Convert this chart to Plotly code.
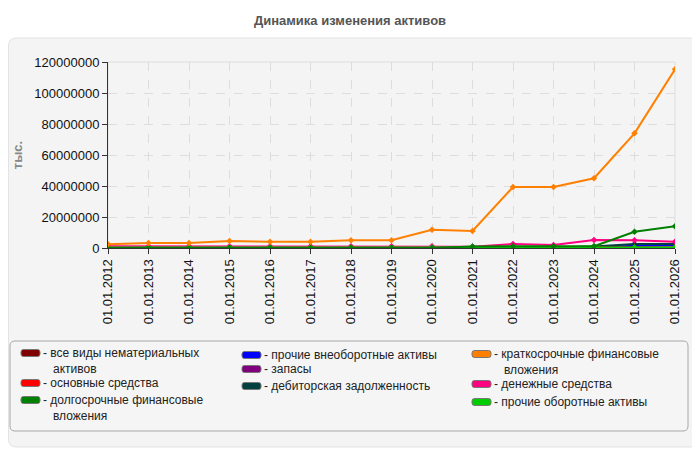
import plotly.graph_objects as go

# страница рисуется со смещением 8px (поля body), поэтому всё сдвигаем
OFF = 8
W, H = 700 - OFF, 450 - OFF
L, R, T, B = 108 - OFF, 25, 62 - OFF, 202

dates = ['01.01.%d' % y for y in range(2012, 2027)]

# значения, тыс.
intangible = [50000, 50000, 50000, 50000, 50000, 50000, 50000, 50000, 50000, 50000, 50000, 50000, 50000, 50000, 50000]
fixed_assets = [300000, 300000, 300000, 300000, 0, 300000, 300000, 300000, 300000, 300000, 300000, 300000, 300000, 300000, 300000]
long_fin = [0, 0, 0, 0, 0, 0, 0, 0, 0, 1000000, 1100000, 1100000, 1200000, 10500000, 14000000]
other_noncurrent = [0, 0, 0, 0, 0, 0, 0, 0, 0, 0, 0, 0, 300000, 1500000, 2000000]
inventory = [0, 0, 0, 0, 0, 0, 0, 0, 0, 200000, 300000, 300000, 300000, 300000, 300000]
receivables = [0, 0, 0, 0, 0, 0, 0, 0, 0, 100000, 200000, 300000, 1000000, 2600000, 2600000]
short_fin = [2500000, 3200000, 3200000, 4500000, 4000000, 4000000, 5000000, 5000000, 11800000, 11000000,
             39300000, 39300000, 45000000, 74000000, 115300000]
cash = [1200000, 1200000, 1200000, 1200000, 1200000, 1200000, 1200000, 1200000, 1200000, 800000,
        2600000, 1900000, 5200000, 5000000, 4000000]
other_current = [400000, 400000, 400000, 400000, 400000, 400000, 400000, 400000, 400000, 400000,
                 400000, 400000, 400000, 400000, 400000]

# (подпись, значения, цвет, колонка легенды, строка легенды в px исходной картинки)
series = [
    ('все виды нематериальных|активов', intangible, '#800000', 0, 353),
    ('прочие внеоборотные активы', other_noncurrent, '#0000ff', 1, 355),
    ('запасы', inventory, '#800080', 1, 369),
    ('дебиторская задолженность', receivables, '#004040', 1, 386),
    ('основные средства', fixed_assets, '#ff0000', 0, 383),
    ('денежные средства', cash, '#ff0080', 2, 384),
    ('прочие оборотные активы', other_current, '#00cc00', 2, 402),
    ('долгосрочные финансовые|вложения', long_fin, '#008000', 0, 400),
    ('краткосрочные финансовые|вложения', short_fin, '#ff8000', 2, 354),
]
legend_cols = [21, 242, 472]


def px(x):
    return (x - OFF - L) / (W - L - R)


def py(y):
    return (H - B - (y - OFF)) / (H - T - B)


def rounded(x0, y0, x1, y1, r):
    # прямоугольник со скруглёнными углами, координаты в пикселях исходной картинки
    return 'M {},{} L {},{} Q {},{} {},{} L {},{} Q {},{} {},{} L {},{} Q {},{} {},{} L {},{} Q {},{} {},{} Z'.format(
        px(x0 + r), py(y0), px(x1 - r), py(y0), px(x1), py(y0), px(x1), py(y0 + r),
        px(x1), py(y1 - r), px(x1), py(y1), px(x1 - r), py(y1),
        px(x0 + r), py(y1), px(x0), py(y1), px(x0), py(y1 - r),
        px(x0), py(y0 + r), px(x0), py(y0), px(x0 + r), py(y0))


fig = go.Figure()
shapes = [
    dict(type='path', xref='paper', yref='paper', path=rounded(8.5, 38, 698, 447, 8),
         fillcolor='#f4f4f4', line=dict(color='#e3e3e3', width=1), layer='below'),
    dict(type='path', xref='paper', yref='paper', path=rounded(10, 341, 688, 431, 5),
         fillcolor='#f5f5f5', line=dict(color='#a8a8a8', width=1), layer='below'),
    dict(type='rect', xref='x domain', yref='y domain', x0=0, x1=1, y0=0, y1=1,
         line=dict(color='#dddddd', width=1), layer='below'),
]
annotations = []

for name, vals, color, col, row in series:
    fig.add_trace(go.Scatter(
        x=dates, y=vals, name=name.replace('|', ' '), mode='lines+markers',
        line=dict(color=color, width=2),
        marker=dict(color=color, size=5, symbol='diamond'),
        showlegend=False,
    ))
    sx = legend_cols[col]
    shapes.append(dict(type='path', xref='paper', yref='paper',
                       path=rounded(sx, row - 3.5, sx + 19, row + 3.5, 2.5),
                       fillcolor=color, line=dict(color='#777', width=1)))
    annotations.append(dict(xref='paper', yref='paper',
                            x=px(sx + 21), y=py(row - 8),
                            xanchor='left', yanchor='top', align='left', showarrow=False,
                            borderpad=0,
                            text='- ' + name.replace('|', '<br>   '),
                            font=dict(size=12, color='#222')))

fig.update_layout(
    width=W, height=H,
    margin=dict(l=L, r=R, t=T, b=B, autoexpand=False),
    paper_bgcolor='white',
    plot_bgcolor='#fafaf3',
    font=dict(family='Liberation Sans, Arial, sans-serif', size=13, color='#111'),
    title=dict(text='<b>Динамика изменения активов</b>', x=(350 - OFF) / W, xanchor='center',
               xref='container', yref='container', y=1 - (20 - OFF) / H, yanchor='middle',
               font=dict(size=13, color='#555')),
    showlegend=False,
    shapes=shapes,
    annotations=annotations,
)

fig.update_xaxes(
    type='category', range=[0, len(dates) - 1], tickangle=-90,
    showgrid=True, gridcolor='#dddddd', griddash='dash', gridwidth=1,
    ticks='outside', ticklen=5, tickcolor='#333',
    showline=True, linecolor='#333', tickfont=dict(size=13),
)
fig.update_yaxes(
    range=[0, 120000000], dtick=20000000, tickformat='d',
    showgrid=True, gridcolor='#dddddd', griddash='dash', gridwidth=1,
    ticks='outside', ticklen=5, tickcolor='#333',
    showline=True, linecolor='#333', zeroline=False,
    title=dict(text='<b>тыс.</b>', font=dict(size=13, color='#888'), standoff=8),
)

fig.write_html('out.html')
